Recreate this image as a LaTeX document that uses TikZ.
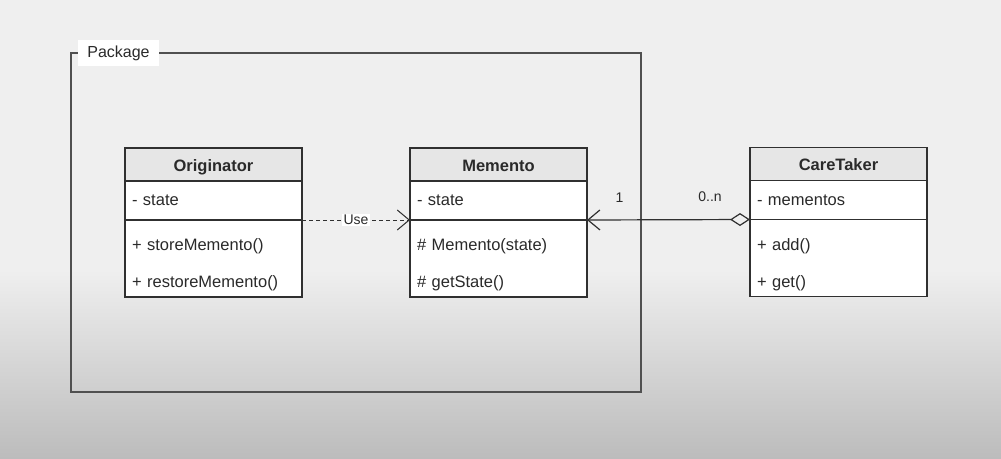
\documentclass[tikz,border=0pt]{standalone}
\usepackage{fontspec}
\setmainfont{Liberation Sans}
\usetikzlibrary{positioning,arrows.meta}
\definecolor{bgtop}{HTML}{EFEFEF}
\definecolor{bgbottom}{HTML}{BCBCBC}
\definecolor{headgray}{HTML}{E6E6E6}
\definecolor{boxline}{HTML}{303030}
\definecolor{framegray}{HTML}{505050}
\definecolor{inkgray}{HTML}{2A2A2A}

\begin{document}
\begin{tikzpicture}[x=1pt, y=-1pt,
    classhead/.style={draw=boxline, line width=1.2pt, fill=headgray, minimum width=177pt,
        minimum height=33pt, inner sep=0pt, outer sep=0pt, text height=13pt, text depth=0pt,
        text=inkgray, font=\fontsize{16.5}{19}\selectfont\bfseries},
    classattr/.style={draw=boxline, line width=1.2pt, fill=white, text width=163pt,
        inner xsep=7pt, inner ysep=0pt, outer sep=0pt, minimum height=39pt, align=left,
        text=inkgray, font=\fontsize{16.5}{19}\selectfont},
    classops/.style={classattr, minimum height=77pt},
    linklabel/.style={inner sep=0pt, text=inkgray, font=\fontsize{14}{16}\selectfont},
    openhead/.tip={Straight Barb[length=12pt, width=20pt]}]

    % background
    \fill[bgtop] (0,0) rectangle (1001,458);
    \shade[top color=bgtop, bottom color=bgbottom] (0,270) rectangle (1001,458);
    \useasboundingbox (0,0) rectangle (1001,458);

    % package frame
    \draw[framegray, line width=1.8pt] (71,53) rectangle (641,392);
    \node[fill=white, minimum width=81pt, minimum height=26pt, inner sep=0pt,
        text=inkgray, font=\fontsize{16}{19}\selectfont] (pkg) at (118.5,53) {Package};

    % Originator
    \node[classhead] (orig) at (213.5,164.5) {Originator};
    \node[classattr, below=0pt of orig] (origattr) {- state};
    \node[classops, below=0pt of origattr] (origops)
        {\rule{0pt}{25pt}+ storeMemento()\\[18pt]+ restoreMemento()};

    % Memento
    \node[classhead] (mem) at (498.5,164.5) {Memento};
    \node[classattr, below=0pt of mem] (memattr) {- state};
    \node[classops, below=0pt of memattr] (memops)
        {\rule{0pt}{25pt}\# Memento(state)\\[18pt]\# getState()};

    % CareTaker
    \node[classhead] (care) at (838.5,164) {CareTaker};
    \node[classattr, below=0pt of care] (careattr) {- mementos};
    \node[classops, below=0pt of careattr] (careops)
        {\rule{0pt}{25pt}+ add()\\[18pt]+ get()};

    % links
    \draw[boxline, line width=1pt, dash pattern=on 4pt off 3pt, -openhead]
        (origattr.south east) -- node[linklabel, fill=white, inner xsep=2pt, inner ysep=1pt] {Use}
        (memattr.south west);
    \draw[boxline, line width=1.2pt, openhead-{Diamond[open, length=20pt, width=13pt]}]
        (memattr.south east)
        -- node[linklabel, pos=0.2, above=17pt] {1}
           node[linklabel, pos=0.755, above=17pt] {0..n}
        (careattr.south west);
\end{tikzpicture}
\end{document}
